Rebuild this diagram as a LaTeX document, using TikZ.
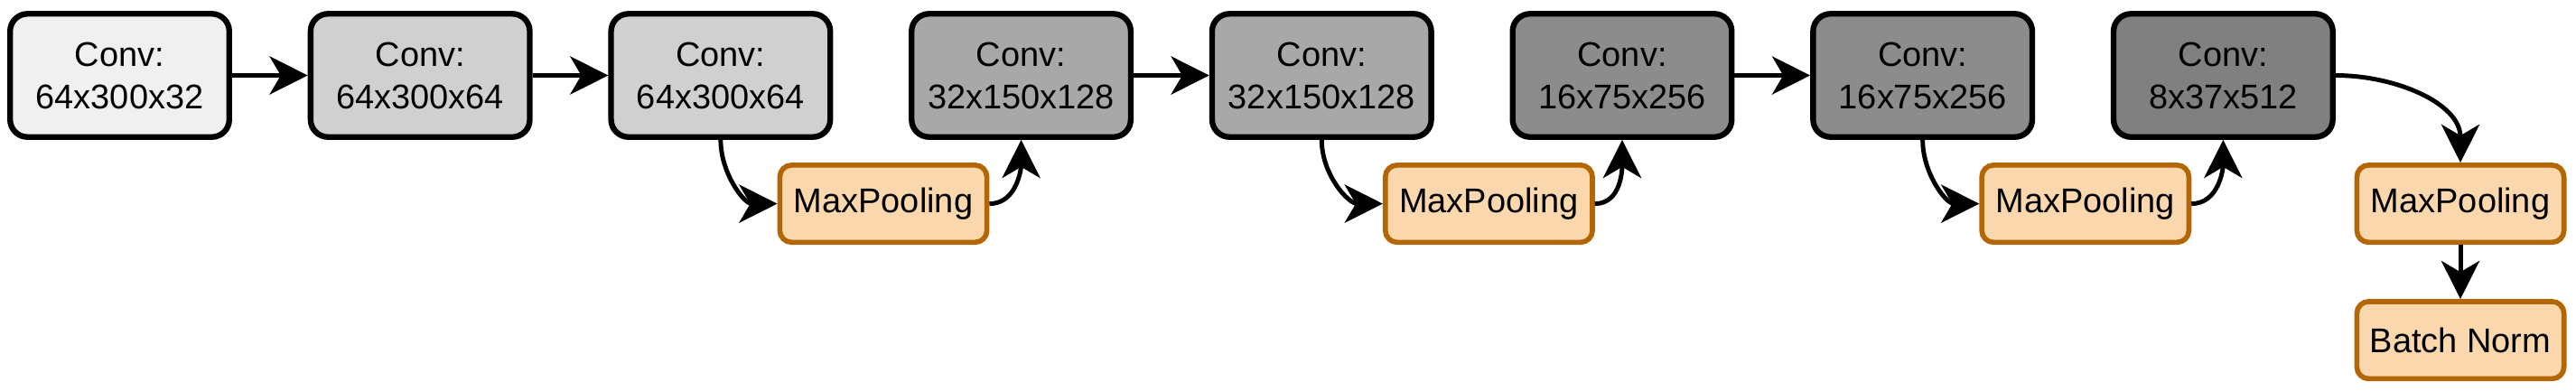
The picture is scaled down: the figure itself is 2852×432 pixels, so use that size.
\documentclass[tikz,border=0pt]{standalone}
\usepackage{fontspec}
\setmainfont{Liberation Sans}
\usetikzlibrary{arrows.meta}

\definecolor{grayA}{HTML}{F0F0F0}
\definecolor{grayB}{HTML}{D0D0D0}
\definecolor{grayC}{HTML}{A8A8A8}
\definecolor{grayD}{HTML}{8C8C8C}
\definecolor{grayE}{HTML}{808080}
\definecolor{poolfill}{HTML}{FAD7AC}
\definecolor{poolline}{HTML}{B46504}

\begin{document}
\begin{tikzpicture}
	[->,>={Stealth[length=12pt,width=12pt,inset=3.5pt]},line width=1.4pt,x=0.01cm,y=0.01cm,node distance=3.325cm,
		conv node/.style={rectangle,rounded corners=5.5pt,draw=black,line width=1.8pt,inner sep=0pt,minimum width=69pt,minimum height=38.8pt,align=center,font=\fontsize{10.8}{13.4}\selectfont},
		pool node/.style={rectangle,rounded corners=3.7pt,draw=poolline,fill=poolfill,line width=1.6pt,inner sep=0pt,minimum width=65.2pt,minimum height=24.3pt,font=\fontsize{10.8}{13.4}\selectfont}]

    \useasboundingbox (0,0) rectangle (2852,-432);

    \node[conv node, fill=grayA] (C1) at (132.5,-83.5) {Conv:\\64x300x32};
    \node[conv node, fill=grayB] (C2)[right of = C1] {Conv:\\64x300x64};
    \node[conv node, fill=grayB] (C3)[right of = C2] {Conv:\\64x300x64};
    \node[conv node, fill=grayC] (C4)[right of = C3] {Conv:\\32x150x128};
    \node[conv node, fill=grayC] (C5)[right of = C4] {Conv:\\32x150x128};
    \node[conv node, fill=grayD] (C6)[right of = C5] {Conv:\\16x75x256};
    \node[conv node, fill=grayD] (C7)[right of = C6] {Conv:\\16x75x256};
    \node[conv node, fill=grayE] (C8)[right of = C7] {Conv:\\8x37x512};

    \node[pool node] (P1)[below of = C3, node distance=1.42cm, xshift=1.8cm] {MaxPooling};
    \node[pool node] (P2)[below of = C5, node distance=1.42cm, xshift=1.85cm] {MaxPooling};
    \node[pool node] (P3)[below of = C7, node distance=1.42cm, xshift=1.8cm] {MaxPooling};
    \node[pool node] (P4)[below of = C8, node distance=1.42cm, xshift=2.625cm] {MaxPooling};
    \node[pool node] (N)[below of = P4, node distance=1.51cm] {Batch Norm};

	\path[]
    (C1) edge                       (C2)
    (C2) edge                       (C3)
    (C3) edge [out=-90, in=180]     (P1)
    (P1) edge [out=0, in=-90]       (C4)
    (C4) edge                       (C5)
    (C5) edge [out=-90, in=180]     (P2)
    (P2) edge [out=0, in=-90]       (C6)
    (C6) edge                       (C7)
    (C7) edge [out=-90, in=180]     (P3)
    (P3) edge [out=0, in=-90]       (C8)
    (C8) edge [out=0, in=90]        (P4)
    (P4) edge                       (N)
    ;

\end{tikzpicture}
\end{document}
